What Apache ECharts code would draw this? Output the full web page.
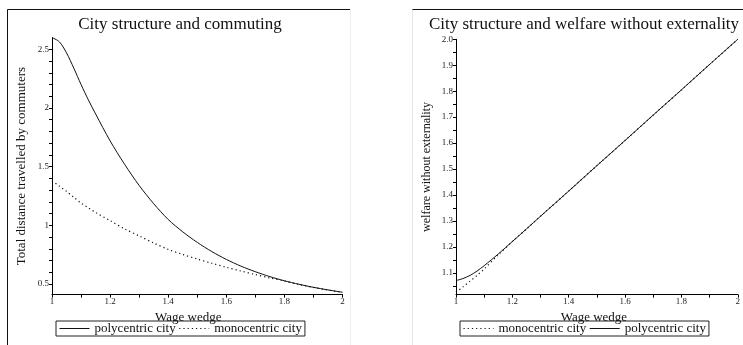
<!DOCTYPE html>
<html><head><meta charset="utf-8">
<script src="https://cdn.jsdelivr.net/npm/echarts@6/dist/echarts.min.js"></script>
<style>html,body{margin:0;padding:0;background:#fff}#c{width:743px;height:345px}</style>
</head><body><div id="c"></div>
<script>
// ---- Data ----
const wedgeCommute = [1.0,1.025,1.05,1.075,1.1,1.125,1.15,1.2,1.25,1.3,1.35,1.4,1.45,1.5,1.55,1.6,1.65,1.7,1.75,1.8,1.85,1.9,1.95,2.0];
const polyCommute  = [2.60,2.565,2.47,2.34,2.20,2.07,1.95,1.72,1.52,1.34,1.185,1.05,0.945,0.855,0.777,0.71,0.653,0.605,0.563,0.528,0.498,0.472,0.45,0.43];
const monoCommute  = [1.38,1.335,1.29,1.24,1.19,1.15,1.11,1.04,0.97,0.91,0.85,0.795,0.752,0.713,0.677,0.643,0.611,0.581,0.552,0.525,0.497,0.471,0.449,0.429];

const wedgeWelfare = [1.0,1.025,1.05,1.075,1.1,1.15,1.2,1.25,1.3,1.4,1.5,1.6,1.7,1.8,1.9,2.0];
const polyWelfare  = [1.07,1.078,1.09,1.107,1.1275,1.1725,1.2205,1.269,1.318,1.415,1.513,1.610,1.708,1.805,1.903,2.0];
const monoWelfare  = [1.025,1.046,1.068,1.09,1.115,1.169,1.2205,1.269,1.318,1.415,1.513,1.610,1.708,1.805,1.903,2.0];

const commuteTicksMajor = [0.5,1,1.5,2,2.5];
const commuteTicksMinor = [0.5,0.6,0.7,0.8,0.9,1,1.1,1.2,1.3,1.4,1.5,1.6,1.7,1.8,1.9,2,2.1,2.2,2.3,2.4,2.5];
const welfareTicksMajor = [1.1,1.2,1.3,1.4,1.5,1.6,1.7,1.8,1.9,2.0];
const welfareTicksMinor = [1.05,1.1,1.15,1.2,1.25,1.3,1.35,1.4,1.45,1.5,1.55,1.6,1.65,1.7,1.75,1.8,1.85,1.9,1.95,2.0];
const wedgeTicksMajor = [1,1.2,1.4,1.6,1.8,2];
const wedgeTicksMinor = [1,1.1,1.2,1.3,1.4,1.5,1.6,1.7,1.8,1.9,2];

const titles = ['City structure and commuting','City structure and welfare without externality'];
const yNames = ['Total distance travelled by commuters','welfare without externality'];
const xName = 'Wage wedge';
const POLY = 'polycentric city', MONO = 'monocentric city';

const pairs = (xs, ys) => xs.map((x,i)=>[x, ys[i]]);
const serif = 'Liberation Serif, Times New Roman, serif';

function xAxis(gi, nameShift){
  return {type:'value', gridIndex:gi, min:1, max:2,
    name:xName, nameLocation:'middle', nameGap:9,
    nameTextStyle:{fontFamily:serif, fontSize:13, color:'#111', padding:[0, nameShift, 0, 0]},
    axisLine:{lineStyle:{color:'#000', width:1}},
    axisTick:{show:true, inside:false, length:3, customValues:wedgeTicksMinor, lineStyle:{color:'#000'}},
    axisLabel:{customValues:wedgeTicksMajor, margin:3, fontFamily:serif, fontSize:9, color:'#222',
      formatter:v=>String(+v.toFixed(1))},
    splitLine:{show:false}};
}
function yAxis(gi, min, max, major, minor, fmt, nameGap){
  return {type:'value', gridIndex:gi, min:min, max:max,
    name:yNames[gi], nameLocation:'middle', nameRotate:90, nameGap:nameGap,
    nameTextStyle:{fontFamily:serif, fontSize:gi===0?13:12, color:'#111'},
    axisLine:{show:true, lineStyle:{color:'#000', width:1}},
    axisTick:{show:true, length:3, customValues:minor, lineStyle:{color:'#000'}},
    axisLabel:{customValues:major, margin:3, fontFamily:serif, fontSize:9, color:'#222', formatter:fmt},
    splitLine:{show:false}};
}
const solid = {color:'#111', width:1, type:'solid'};
const dotted = {color:'#111', width:1.2, type:[1.2,3]};
const legendBase = {top:321, orient:'horizontal', padding:[1,3,1,3],
  borderColor:'#222', borderWidth:1, itemWidth:30, itemHeight:12, itemGap:3,
  itemStyle:{opacity:0, borderWidth:0},
  lineStyle:{width:1},
  textStyle:{fontFamily:serif, fontSize:13, color:'#111'}};

const option = {
  backgroundColor:'#fff',
  animation:false,
  title:[
    {text:titles[0], left:180, top:16, textAlign:'center', padding:0,
      textStyle:{fontFamily:serif, fontSize:17, fontWeight:'normal', color:'#111'}},
    {text:titles[1], left:584, top:16, textAlign:'center', padding:0,
      textStyle:{fontFamily:serif, fontSize:17, fontWeight:'normal', color:'#111'}}
  ],
  grid:[
    {left:52, top:37.6, width:290.5, height:257},
    {left:456, top:39.3, width:289.6, height:255.3}
  ],
  xAxis:[xAxis(0, 18), xAxis(1, 6)],
  yAxis:[
    yAxis(0, 0.41, 2.6, commuteTicksMajor, commuteTicksMinor, v=>String(+v.toFixed(1)), 24),
    yAxis(1, 1.016, 2.0, welfareTicksMajor, welfareTicksMinor, v=>v.toFixed(1), 23)
  ],
  legend:[
    Object.assign({left:56, data:[POLY, MONO]}, legendBase),
    Object.assign({left:460, data:[MONO, POLY]}, legendBase)
  ],
  series:[
    {name:POLY, type:'line', xAxisIndex:0, yAxisIndex:0, data:pairs(wedgeCommute, polyCommute),
      symbol:'none', smooth:0.3, lineStyle:solid, itemStyle:{color:'#111'}},
    {name:MONO, type:'line', xAxisIndex:0, yAxisIndex:0, data:pairs(wedgeCommute, monoCommute),
      symbol:'none', smooth:0.3, lineStyle:dotted, itemStyle:{color:'#111'}},
    {name:POLY, type:'line', xAxisIndex:1, yAxisIndex:1, data:pairs(wedgeWelfare, polyWelfare),
      symbol:'none', smooth:0.3, lineStyle:solid, itemStyle:{color:'#111'}},
    {name:MONO, type:'line', xAxisIndex:1, yAxisIndex:1, data:pairs(wedgeWelfare, monoWelfare),
      symbol:'none', smooth:0.3, lineStyle:dotted, itemStyle:{color:'#111'}}
  ],
  graphic:[
    {type:'line', shape:{x1:7.5, y1:9.5, x2:350, y2:9.5}, style:{stroke:'#111', lineWidth:1}},
    {type:'line', shape:{x1:7.5, y1:9.5, x2:7.5, y2:345}, style:{stroke:'#111', lineWidth:1}},
    {type:'line', shape:{x1:350.5, y1:9.5, x2:350.5, y2:345}, style:{stroke:'#eee', lineWidth:1}},
    {type:'line', shape:{x1:412, y1:9.5, x2:743, y2:9.5}, style:{stroke:'#111', lineWidth:1}},
    {type:'line', shape:{x1:412.5, y1:9.5, x2:412.5, y2:345}, style:{stroke:'#e6e6e6', lineWidth:1}}
  ]
};
const chart = echarts.init(document.getElementById('c'), null, {renderer:'canvas'});
chart.setOption(option);
</script>
</body></html>
